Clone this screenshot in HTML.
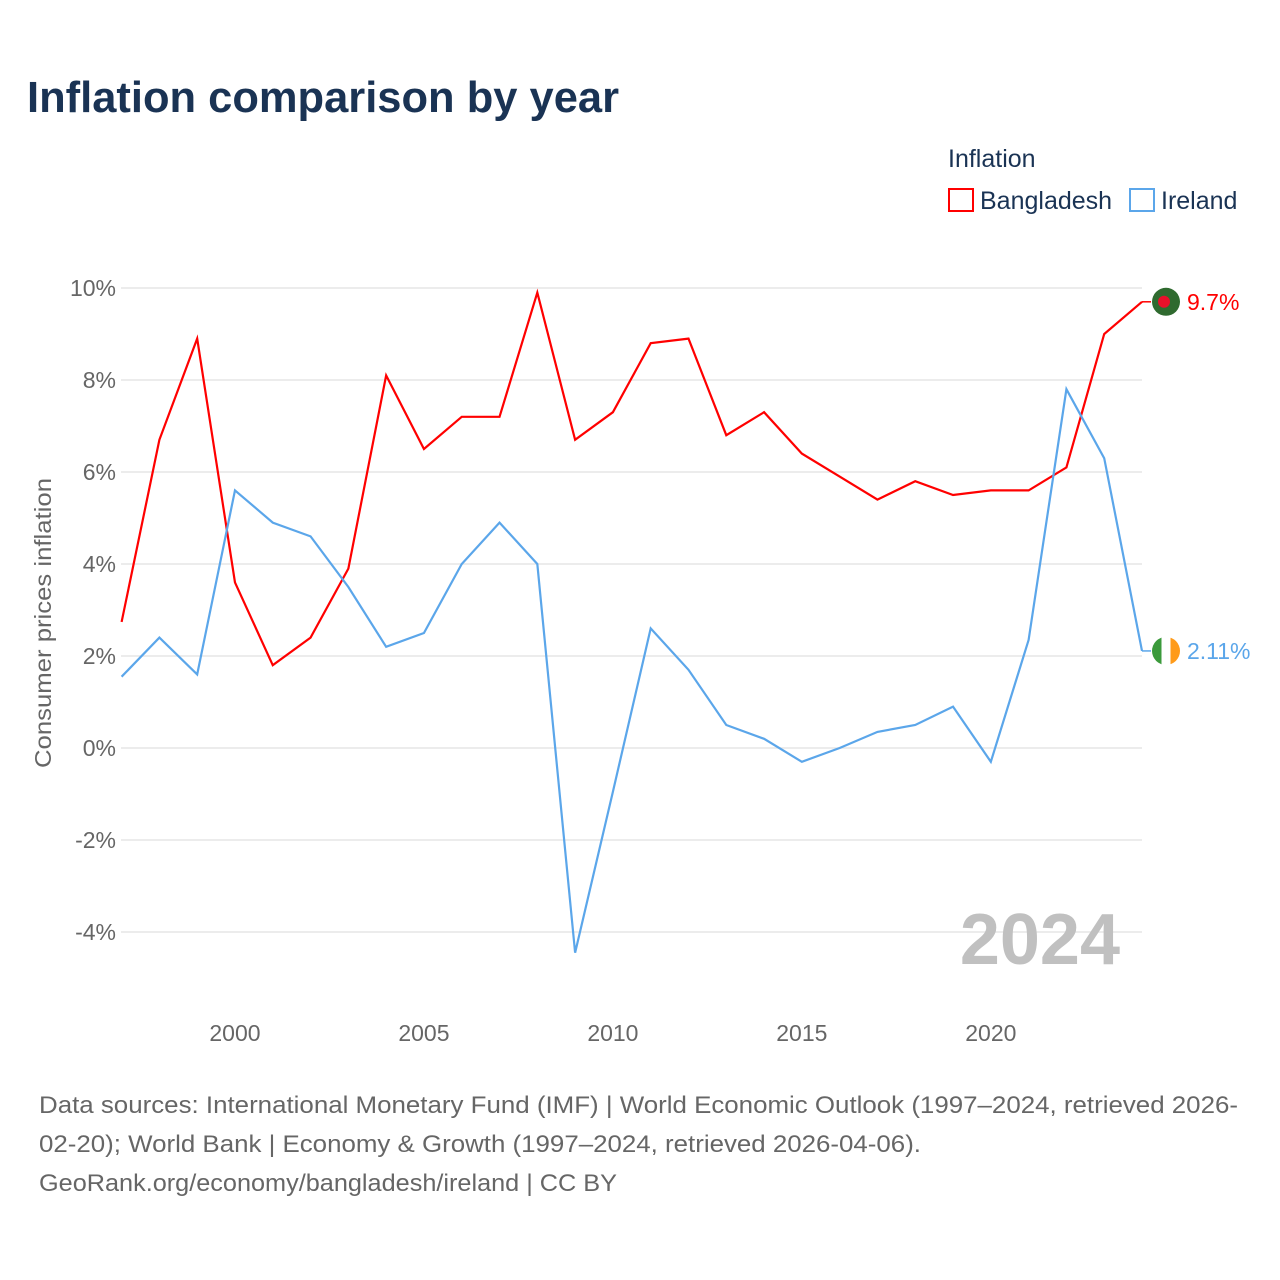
<!DOCTYPE html>
<html><head><meta charset="utf-8"><style>
body{margin:0;background:#fff;font-family:"Liberation Sans",sans-serif}
#wrap{position:relative;width:1280px;height:1280px;overflow:hidden}
</style></head><body><div id="wrap">
<svg id="chart" width="1280" height="1280" style="font-family:'Liberation Sans',sans-serif">
<text x="27" y="112" font-size="44" font-weight="bold" fill="#1a3354" textLength="592" lengthAdjust="spacingAndGlyphs">Inflation comparison by year</text>
<text x="948" y="167" font-size="25" fill="#1a3354">Inflation</text>
<g><rect x="949" y="189" width="24" height="22" fill="none" stroke="#ff0000" stroke-width="2"/><text x="980" y="209" font-size="25" fill="#1a3354">Bangladesh</text></g>
<g><rect x="1130" y="189" width="24" height="22" fill="none" stroke="#5ba6ea" stroke-width="2"/><text x="1161" y="209" font-size="25" fill="#1a3354">Ireland</text></g>
<g id="grid"></g><g id="axes"></g><g id="series"></g>
<text x="1120" y="964" font-size="72" font-weight="bold" fill="#c0c0c0" text-anchor="end">2024</text>
<text transform="translate(51,623) rotate(-90)" font-size="23" fill="#666" text-anchor="middle" textLength="290" lengthAdjust="spacingAndGlyphs">Consumer prices inflation</text>
<g font-size="24" fill="#666">
<text x="39" y="1113" textLength="1199" lengthAdjust="spacingAndGlyphs">Data sources: International Monetary Fund (IMF) | World Economic Outlook (1997–2024, retrieved 2026-</text>
<text x="39" y="1152" textLength="882" lengthAdjust="spacingAndGlyphs">02-20); World Bank | Economy &amp; Growth (1997–2024, retrieved 2026-04-06).</text>
<text x="39" y="1191" textLength="578" lengthAdjust="spacingAndGlyphs">GeoRank.org/economy/bangladesh/ireland | CC BY</text></g>
</svg>
<script>
const years=[1997,1998,1999,2000,2001,2002,2003,2004,2005,2006,2007,2008,2009,2010,2011,2012,2013,2014,2015,2016,2017,2018,2019,2020,2021,2022,2023,2024];
const bangladesh=[2.74,6.7,8.9,3.6,1.8,2.4,3.9,8.1,6.5,7.2,7.2,9.9,6.7,7.3,8.8,8.9,6.8,7.3,6.4,5.9,5.4,5.8,5.5,5.6,5.6,6.1,9.0,9.7];
const ireland=[1.55,2.4,1.6,5.6,4.9,4.6,3.5,2.2,2.5,4.0,4.9,4.0,-4.45,-0.95,2.6,1.7,0.5,0.2,-0.3,0.0,0.35,0.5,0.9,-0.3,2.35,7.8,6.3,2.11];
const yTicks=[-4,-2,0,2,4,6,8,10];
const xTicks=[2000,2005,2010,2015,2020];
const ns="http://www.w3.org/2000/svg";
const X=y=>121.6+(y-1997)*(1142-121.6)/27;
const Y=v=>748-v*46;
function mk(t,a,p){const e=document.createElementNS(ns,t);for(const k in a)e.setAttribute(k,a[k]);p.appendChild(e);return e;}
const g=document.getElementById('grid'),ax=document.getElementById('axes'),s=document.getElementById('series');
yTicks.forEach(v=>{const l=mk('line',{x1:121,x2:1142,y1:Y(v),y2:Y(v),stroke:'#e6e6e6','stroke-width':1.5},g);


const t=mk('text',{x:116,y:Y(v)+8,'font-size':23,fill:'#666','text-anchor':'end'},ax);t.textContent=v+'%';

});
xTicks.forEach(v=>{const t=mk('text',{x:X(v),y:1041,'font-size':23,fill:'#666','text-anchor':'middle'},ax);t.textContent=v;

});
function line(vals,col,name,lbl,flag){
const p=mk('polyline',{points:vals.map((v,i)=>X(years[i])+','+Y(v)).join(' '),fill:'none',stroke:col,'stroke-width':2.2},s);


const last=vals[vals.length-1],ly=Y(last),lx=X(years[years.length-1]);
mk('line',{x1:lx,x2:lx+9,y1:ly,y2:ly,stroke:col,'stroke-width':1.5},s);
const fg=mk('g',{},s);


flag(fg,lx+24,ly);
const t=mk('text',{x:lx+45,y:ly+8,'font-size':23,fill:col},s);t.textContent=lbl;

}
line(bangladesh,'#ff0000','bangladesh','9.7%',(p,cx,cy)=>{mk('circle',{cx:cx,cy:cy,r:14,fill:'#2f6a2f'},p);mk('circle',{cx:cx-2,cy:cy,r:6,fill:'#e8102a'},p);});
line(ireland,'#5ba6ea','ireland','2.11%',(p,cx,cy)=>{const c=mk('clipPath',{id:'ic'},p);mk('circle',{cx:cx,cy:cy,r:14},c);
mk('rect',{x:cx-14,y:cy-14,width:10,height:28,fill:'#3b9a3b','clip-path':'url(#ic)'},p);
mk('rect',{x:cx-4.5,y:cy-14,width:9,height:28,fill:'#fff','clip-path':'url(#ic)'},p);
mk('rect',{x:cx+4.5,y:cy-14,width:10,height:28,fill:'#ff9b1a','clip-path':'url(#ic)'},p);});
</script></div></body></html>
